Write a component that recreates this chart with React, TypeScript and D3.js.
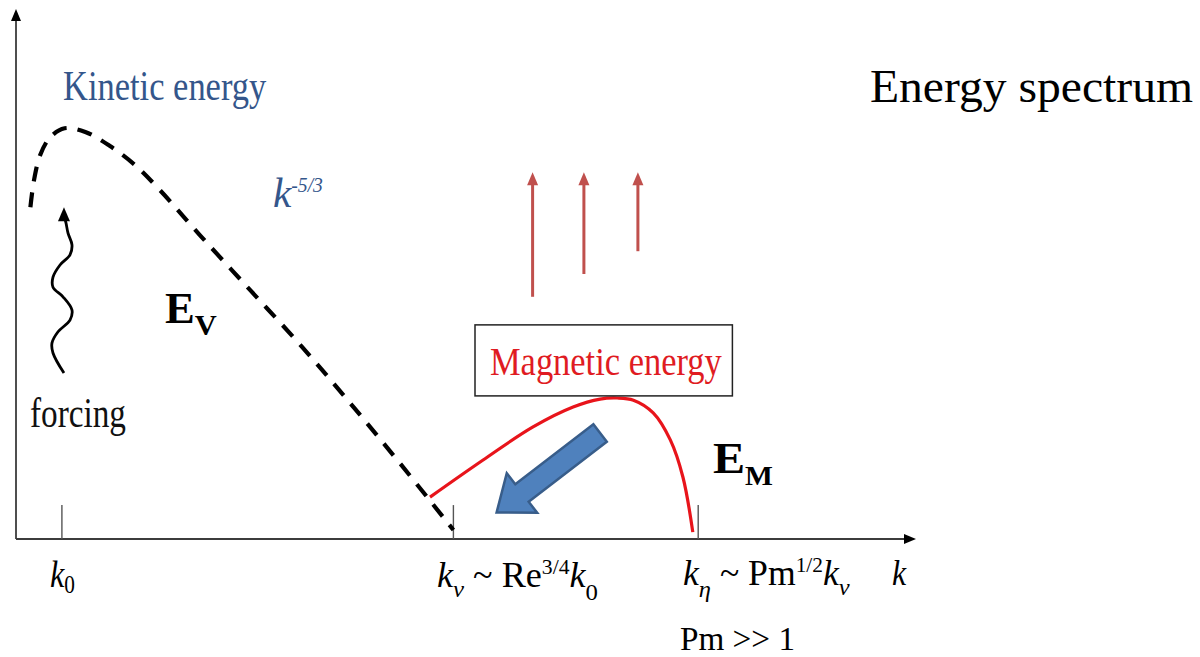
import React, { useLayoutEffect, useRef, useState } from "react";
import * as d3 from "d3";

// Schematic spectrum values (k in arbitrary units 0-100, E in arbitrary units 0-100)
const kineticK = [1.6, 2.0, 2.7, 3.8, 5.4, 7.7, 10.4, 13.2, 16.0, 20.4, 26.0, 31.6, 37.1, 42.7, 48.6];
const kineticE = [62.6, 67.7, 72.5, 75.8, 77.5, 76.8, 74.2, 70.6, 65.8, 57.4, 47.0, 36.6, 25.7, 14.2, 1.7];

const magneticK = [46.0, 51.9, 57.4, 61.9, 64.9, 66.8, 68.6, 70.8, 72.7, 74.1, 75.2];
const magneticE = [7.9, 14.9, 21.1, 24.9, 26.4, 26.6, 26.2, 23.8, 18.7, 11.7, 1.3];

// Wavy forcing arrow at the injection scale
const forcingK = [5.33, 4.11, 4.0, 4.67, 6.0, 6.22, 5.22, 4.11, 4.11, 4.89, 6.0, 6.22, 5.78, 5.56, 5.4];
const forcingE = [31.3, 35.1, 37.0, 39.1, 41.3, 43.2, 45.7, 47.5, 49.4, 51.7, 53.6, 55.5, 57.7, 59.6, 60.6];
const forcingTip = [5.33, 62.6];

// Growth arrows of the magnetic field
const growthK = [57.4, 63.1, 69.1];
const growthFrom = [45.7, 50.0, 54.3];
const growthTo = 69.2;

// Back-transfer arrow
const transferFrom = [64.9, 20.0];
const transferTo = [53.4, 5.0];

// Characteristic wavenumbers on the k axis
const tickK = [5.1, 48.6, 75.8];
const tickTop = 6.4;

// Magnetic energy label box
const boxK = [51.0, 79.6];
const boxE = [27.0, 40.4];

const W = 1200;
const H = 657;
const SERIF = "Liberation Serif, Tinos, Times New Roman, serif";

const x = d3.scaleLinear().domain([0, 100]).range([16, 916]);
const y = d3.scaleLinear().domain([0, 100]).range([539, 9]);

const zip = (a: number[], b: number[]) => a.map((v, i) => [v, b[i]] as [number, number]);

const smooth = d3
  .line<[number, number]>()
  .x((d) => x(d[0]))
  .y((d) => y(d[1]))
  .curve(d3.curveCatmullRom.alpha(0.5));

// Text that is squeezed horizontally to a given width
function FitText({ px, py, width, children, ...rest }: any) {
  const ref = useRef<SVGTextElement>(null);
  const [s, setS] = useState(1);
  useLayoutEffect(() => {
    const measure = () => {
      if (ref.current) {
        const w = ref.current.getBBox().width;
        if (w > 0) setS(width / w);
      }
    };
    measure();
    if ((document as any).fonts && (document as any).fonts.ready) {
      (document as any).fonts.ready.then(measure);
    }
  }, [width]);
  return (
    <text
      ref={ref}
      transform={`translate(${px},${py}) scale(${s},1)`}
      style={{ fontFamily: SERIF }}
      {...rest}
    >
      {children}
    </text>
  );
}

function fatArrow(from: number[], to: number[]) {
  const x0 = x(from[0]);
  const y0 = y(from[1]);
  const x1 = x(to[0]);
  const y1 = y(to[1]);
  const dx = x1 - x0;
  const dy = y1 - y0;
  const len = Math.hypot(dx, dy);
  const ux = dx / len;
  const uy = dy / len;
  const nx = -uy;
  const ny = ux;
  const shaft = 11;
  const head = 25;
  const headLen = 32;
  const bx = x1 - ux * headLen;
  const by = y1 - uy * headLen;
  const pts = [
    [x0 + nx * shaft, y0 + ny * shaft],
    [bx + nx * shaft, by + ny * shaft],
    [bx + nx * head, by + ny * head],
    [x1, y1],
    [bx - nx * head, by - ny * head],
    [bx - nx * shaft, by - ny * shaft],
    [x0 - nx * shaft, y0 - ny * shaft],
  ];
  return "M" + pts.map((p) => p.join(",")).join("L") + "Z";
}

export default function App() {
  const axisColor = "#3c3c3c";
  const blue = "#34568b";
  const tipX = x(forcingTip[0]);
  const tipY = y(forcingTip[1]);

  return (
    <svg width={W} height={H} style={{ position: "absolute", left: 0, top: 0, background: "#fff" }}>
      {/* axes */}
      <line x1={x(0)} y1={y(0)} x2={x(0)} y2={y(100) + 10} stroke={axisColor} strokeWidth={1.8} />
      <path d={`M${x(0)},${y(100)} l-5,12 l10,0 Z`} fill="#000" />
      <line x1={x(0)} y1={y(0)} x2={x(100) - 10} y2={y(0)} stroke={axisColor} strokeWidth={1.8} />
      <path d={`M${x(100)},${y(0)} l-12,-5 l0,10 Z`} fill="#000" />

      {/* tick marks */}
      {tickK.map((k, i) => (
        <line key={i} x1={x(k)} x2={x(k)} y1={y(0)} y2={y(tickTop)} stroke="#555" strokeWidth={1.4} />
      ))}

      {/* kinetic spectrum */}
      <path
        d={smooth(zip(kineticK, kineticE)) || ""}
        fill="none"
        stroke="#000"
        strokeWidth={4.2}
        strokeDasharray="15 11"
      />

      {/* magnetic spectrum */}
      <path d={smooth(zip(magneticK, magneticE)) || ""} fill="none" stroke="#e8141b" strokeWidth={3.2} />

      {/* magnetic energy box */}
      <rect
        x={x(boxK[0])}
        y={y(boxE[1])}
        width={x(boxK[1]) - x(boxK[0])}
        height={y(boxE[0]) - y(boxE[1])}
        fill="none"
        stroke="#222"
        strokeWidth={1.5}
      />

      {/* forcing */}
      <path d={smooth(zip(forcingK, forcingE)) || ""} fill="none" stroke="#000" strokeWidth={2.8} />
      <path d={`M${tipX},${tipY} L${tipX - 6},${tipY + 14} L${tipX + 6},${tipY + 14} Z`} fill="#000" />

      {/* growth arrows */}
      {growthK.map((k, i) => (
        <g key={i}>
          <line x1={x(k)} x2={x(k)} y1={y(growthFrom[i])} y2={y(growthTo) + 10} stroke="#c0504d" strokeWidth={3} />
          <path
            d={`M${x(k)},${y(growthTo)} L${x(k) - 5.5},${y(growthTo) + 13} L${x(k) + 5.5},${y(growthTo) + 13} Z`}
            fill="#c0504d"
          />
        </g>
      ))}

      {/* back-transfer arrow */}
      <path d={fatArrow(transferFrom, transferTo)} fill="#4f81bd" stroke="#385d8a" strokeWidth={2.5} strokeLinejoin="miter" />

      {/* labels */}
      <FitText px={63} py={100} width={204} fontSize={42} fill={blue}>
        Kinetic energy
      </FitText>
      <FitText px={273} py={207} width={50} fontSize={42} fill={blue} fontStyle="italic">
        k
        <tspan fontSize={20} dy={-15}>-5/3</tspan>
      </FitText>
      <FitText px={165} py={323} width={52} fontSize={44} fontWeight="bold" fill="#000">
        E<tspan fontSize={30} dy={12}>V</tspan>
      </FitText>
      <FitText px={30} py={427} width={96} fontSize={42} fill="#111">
        forcing
      </FitText>
      <FitText px={490} py={375} width={232} fontSize={40} fill="#e01b22">
        Magnetic energy
      </FitText>
      <FitText px={713} py={473} width={60} fontSize={44} fontWeight="bold" fill="#000">
        E<tspan fontSize={27} dy={12}>M</tspan>
      </FitText>
      <FitText px={870} py={102} width={323} fontSize={46} fill="#000">
        Energy spectrum
      </FitText>

      {/* axis labels */}
      <FitText px={50} py={587} width={25} fontSize={38} fill="#000">
        <tspan fontStyle="italic">k</tspan>
        <tspan fontSize={25} dy={6}>0</tspan>
      </FitText>
      <FitText px={437} py={587} width={161} fontSize={35} fill="#000">
        <tspan fontStyle="italic">k</tspan>
        <tspan fontStyle="italic" fontSize={24} dy={10}>ν</tspan>
        <tspan dy={-10}> ~ Re</tspan>
        <tspan fontSize={21} dy={-13}>3/4</tspan>
        <tspan fontStyle="italic" dy={13}>k</tspan>
        <tspan fontSize={24} dy={13}>0</tspan>
      </FitText>
      <FitText px={683} py={585} width={167} fontSize={35} fill="#000">
        <tspan fontStyle="italic">k</tspan>
        <tspan fontStyle="italic" fontSize={24} dy={12}>η</tspan>
        <tspan dy={-12}> ~ Pm</tspan>
        <tspan fontSize={21} dy={-13}>1/2</tspan>
        <tspan fontStyle="italic" dy={13}>k</tspan>
        <tspan fontStyle="italic" fontSize={24} dy={10}>ν</tspan>
      </FitText>
      <FitText px={892} py={585} width={15} fontSize={36} fill="#000" fontStyle="italic">
        k
      </FitText>
      <FitText px={680} py={650} width={115} fontSize={34} fill="#000">
        Pm &gt;&gt; 1
      </FitText>
    </svg>
  );
}
